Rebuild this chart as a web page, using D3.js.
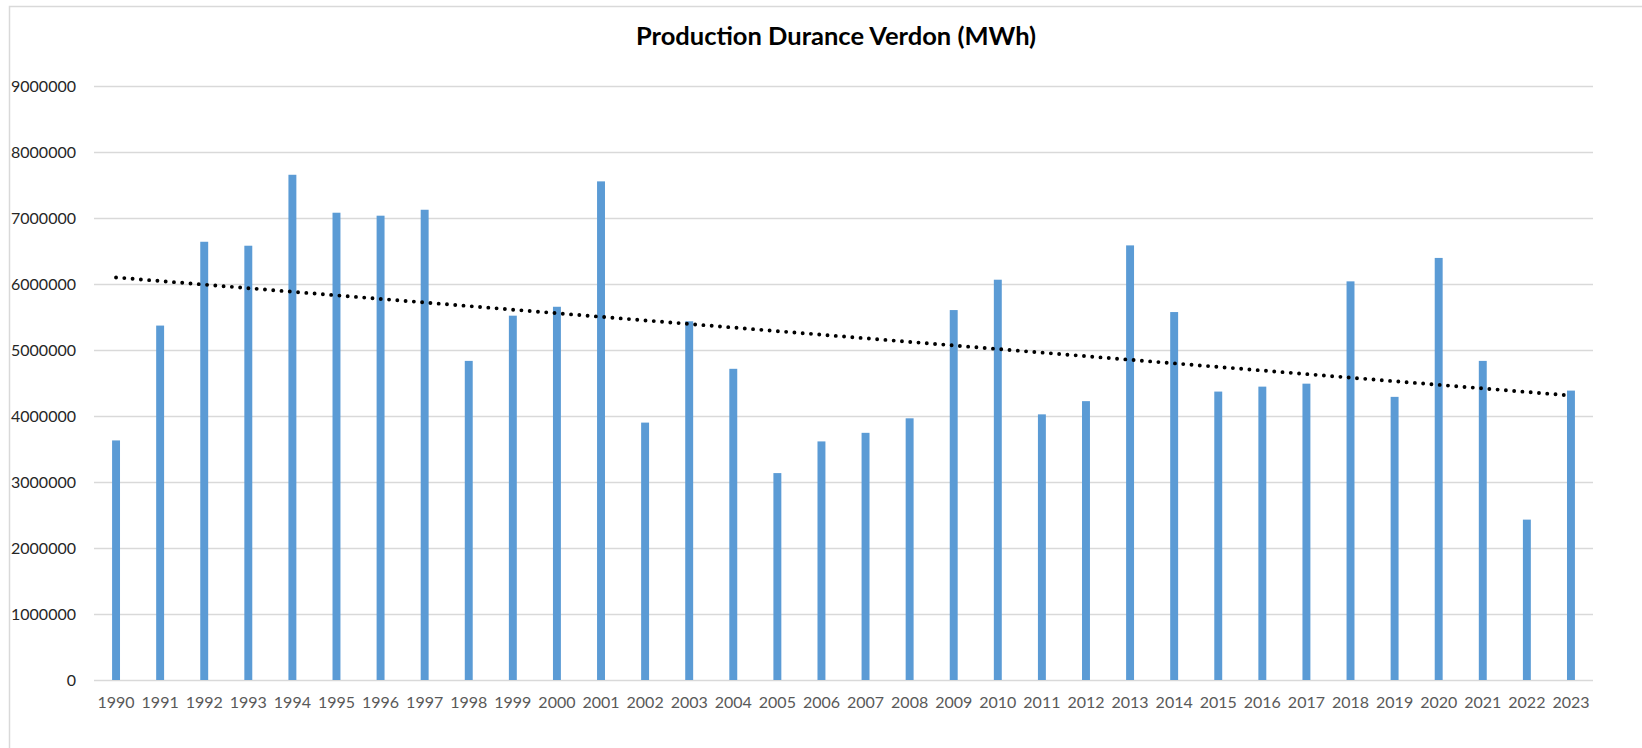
<!DOCTYPE html>
<html>
<head>
<meta charset="utf-8">
<script src="https://cdn.jsdelivr.net/npm/d3@7"></script>
<style>
  body { margin: 0; background: #fff; }
  .chart text { font-family: Lato, "Open Sans", sans-serif; }
  .axis path, .axis line { display: none; }
</style>
</head>
<body>
<svg class="chart"></svg>
<script>
const years = ["1990","1991","1992","1993","1994","1995","1996","1997","1998","1999",
               "2000","2001","2002","2003","2004","2005","2006","2007","2008","2009",
               "2010","2011","2012","2013","2014","2015","2016","2017","2018","2019",
               "2020","2021","2022","2023"];

// Production in MWh
const production = [3630000, 5370000, 6640000, 6580000, 7655000, 7080000, 7035000, 7125000, 4835000, 5520000,
                    5655000, 7555000, 3900000, 5435000, 4715000, 3135000, 3615000, 3745000, 3965000, 5605000,
                    6065000, 4025000, 4225000, 6585000, 5575000, 4370000, 4445000, 4490000, 6040000, 4290000,
                    6395000, 4835000, 2430000, 4385000];

const yTicks = [0, 1000000, 2000000, 3000000, 4000000, 5000000, 6000000, 7000000, 8000000, 9000000];

const svgW = 1642, svgH = 748;
const margin = {top: 86, right: 49, bottom: 68, left: 94},
      width = svgW - margin.left - margin.right,   // 1499
      height = svgH - margin.top - margin.bottom;  // 594

const svg = d3.select(".chart")
              .attr("width", svgW)
              .attr("height", svgH);

// Chart area border (runs off the page to the right and bottom)
svg.append("rect")
   .attr("x", 9.5)
   .attr("y", 6.5)
   .attr("width", svgW + 20)
   .attr("height", svgH + 20)
   .style("fill", "#fff")
   .style("stroke", "#d9d9d9")
   .style("stroke-width", 1.5);

const chart = svg.append("g")
                 .attr("transform", "translate(" + margin.left + "," + margin.top + ")");

let x = d3.scaleBand()
          .domain(years)
          .range([0, width])
          .paddingInner(0.82)
          .paddingOuter(0.41);

let y = d3.scaleLinear()
          .domain([0, 9000000])
          .range([height, 0]);

// Gridlines
chart.append("g")
     .selectAll("line")
     .data(yTicks)
     .enter().append("line")
     .attr("x1", 0)
     .attr("x2", width)
     .attr("y1", (d) => Math.round(y(d)) + 0.5)
     .attr("y2", (d) => Math.round(y(d)) + 0.5)
     .style("stroke", "#d9d9d9")
     .style("stroke-width", 1.3);

// y-Axis
chart.append("g")
     .attr("class", "y-axis axis")
     .call(d3.axisLeft(y).tickValues(yTicks).tickSize(0).tickPadding(18).tickFormat(d3.format("d")))
     .selectAll("text")
     .style("font-size", "16px")
     .attr("fill", "#262626");

// x-Axis
chart.append("g")
     .attr("class", "x-axis axis")
     .attr("transform", "translate(0," + height + ")")
     .call(d3.axisBottom(x).tickSize(0).tickPadding(17))
     .selectAll("text")
     .style("font-size", "16px")
     .attr("fill", "#595959");

// Bars
chart.selectAll(".bar")
     .data(production)
     .enter().append("rect")
     .attr("class", "bar")
     .attr("x", (d, i) => x(years[i]))
     .attr("y", (d) => y(d))
     .attr("width", x.bandwidth())
     .attr("height", (d) => height - y(d))
     .style("fill", "#5b9bd5");

// Linear trendline (least squares over the series)
const n = production.length;
const xs = d3.range(1, n + 1);
const mx = d3.mean(xs), my = d3.mean(production);
const slope = d3.sum(xs, (v, i) => (v - mx) * (production[i] - my)) / d3.sum(xs, (v) => (v - mx) * (v - mx));
const intercept = my - slope * mx;
const trend = [
  [years[0], intercept + slope * 1],
  [years[n - 1], intercept + slope * n]
];

chart.append("path")
     .datum(trend)
     .attr("d", d3.line()
                  .x((d) => x(d[0]) + x.bandwidth() / 2)
                  .y((d) => y(d[1])))
     .style("fill", "none")
     .style("stroke", "#000")
     .style("stroke-width", 3.9)
     .style("stroke-linecap", "round")
     .style("stroke-dasharray", "0 8.3");

// Chart Title
svg.append("text")
   .attr("x", 836)
   .attr("y", 45)
   .style("text-anchor", "middle")
   .style("font-size", "25.5px")
   .style("font-weight", "bold")
   .attr("fill", "#000")
   .text("Production Durance Verdon (MWh)");
</script>
</body>
</html>
